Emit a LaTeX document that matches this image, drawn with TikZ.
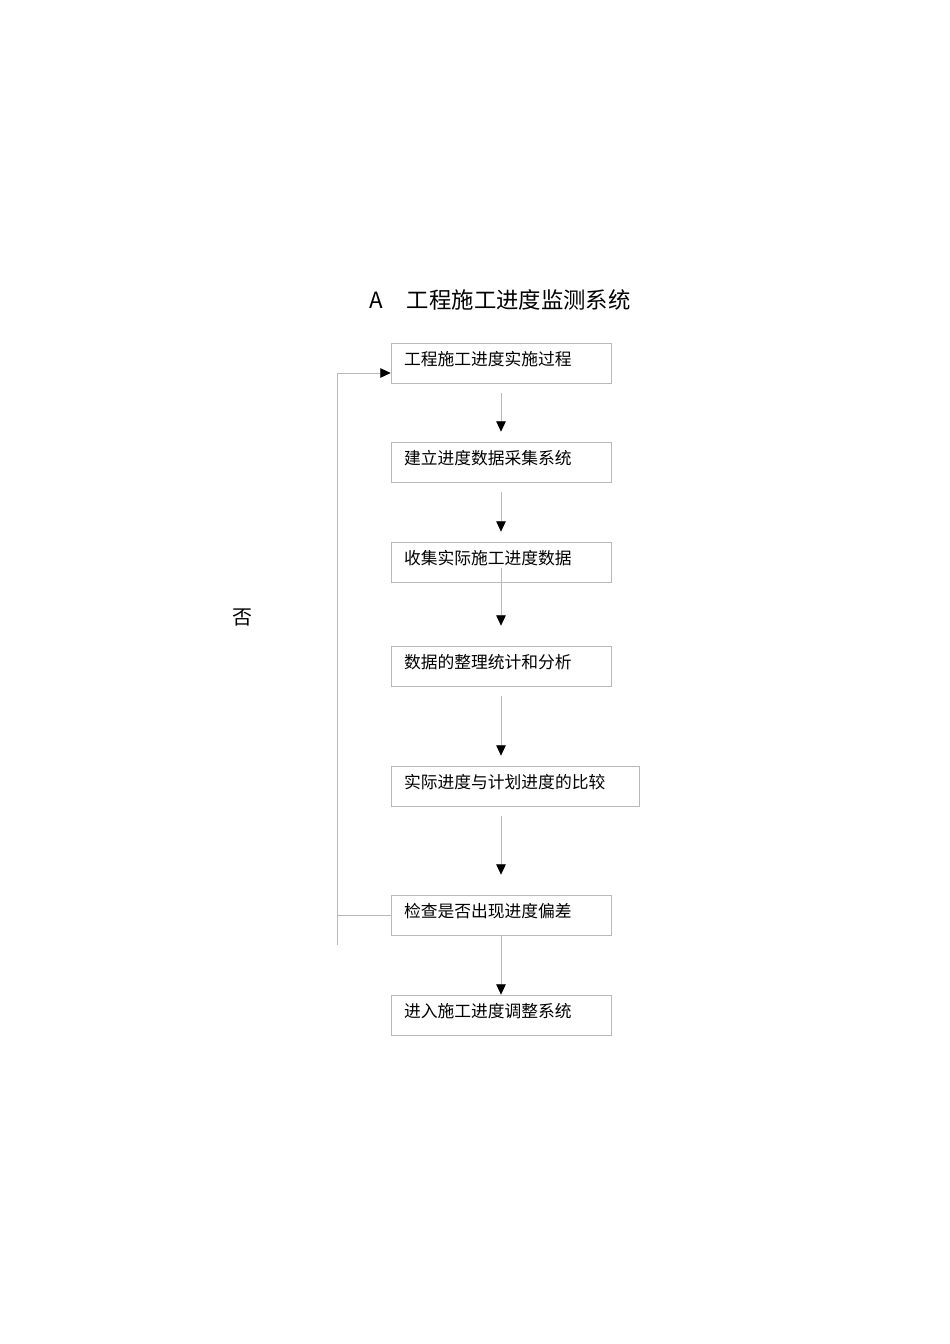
\documentclass[tikz,border=0pt]{standalone}
\usepackage{fontspec}
\setmainfont{Noto Sans CJK SC}
\usetikzlibrary{arrows.meta}

\tikzset{
  box/.style={draw=gray!55, line width=0.5pt, minimum height=25pt, inner xsep=8.14pt, inner ysep=2pt,
    text height=8.5pt, text depth=5pt, text width=121.4pt, align=left, font=\fontsize{10.5pt}{12pt}\selectfont},
  flow/.style={draw=gray!55, line width=0.5pt, -{Triangle[color=black, width=6pt, length=6.5pt]}},
  back/.style={draw=gray!55, line width=0.5pt}
}

\begin{document}
\begin{tikzpicture}[x=0.626pt, y=-0.626pt]
\useasboundingbox (0,0) rectangle (950,1344);
\node[font=\fontsize{14pt}{16pt}\selectfont] (AT) at (500,300) {A\hspace{15pt}工程施工进度监测系统};
\node[box] (AN1) at (501,363) {工程施工进度实施过程};
\node[box] (AN2) at (501,462) {建立进度数据采集系统};
\node[box] (AN3) at (501,562) {收集实际施工进度数据};
\node[box] (AN4) at (501,666) {数据的整理统计和分析};
\node[box, text width=138.9pt] (AN5) at (515,786) {实际进度与计划进度的比较};
\node[box] (AN6) at (501,915) {检查是否出现进度偏差};
\node[box] (AN7) at (501,1015) {进入施工进度调整系统};
\node[font=\fontsize{12.5pt}{14pt}\selectfont] (AF) at (242,617) {否};
\coordinate (AB) at (337,945);
\draw[flow, shorten <=6.26pt, shorten >=6.26pt] (AN1) -- (AN2);
\draw[flow, shorten <=6.26pt, shorten >=6.26pt] (AN2) -- (AN3);
\draw[flow, shorten <=-8.8pt, shorten >=12.5pt] (AN3) -- (AN4);
\draw[flow, shorten <=6.26pt, shorten >=6.26pt] (AN4.south) -- (AN4.south |- AN5.north);
\draw[flow, shorten <=6.26pt, shorten >=12.5pt] (AN4.south |- AN5.south) -- (AN6.north);
\draw[flow] (AN6) -- (AN7);
\draw[back] (AN6.west) -- (AN6.west -| AB);
\draw[flow] (AB) |- ([yshift=-6.26pt]AN1.west);
\end{tikzpicture}
\end{document}
